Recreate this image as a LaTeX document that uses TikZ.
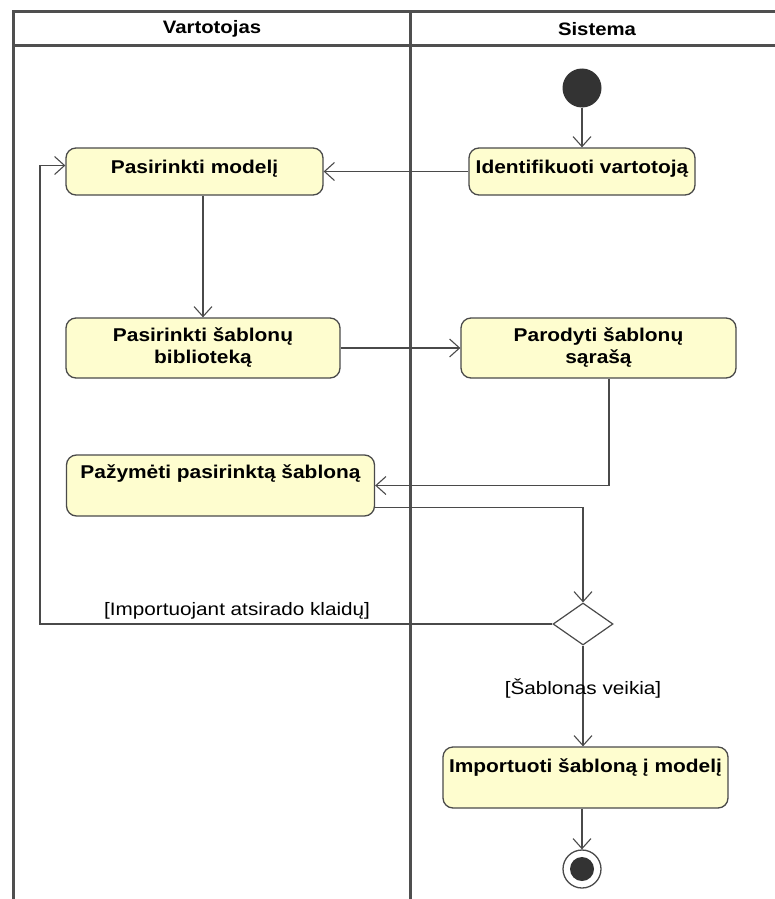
\documentclass[tikz,border=0pt]{standalone}
\usepackage{fontspec}
\setmainfont{Liberation Sans}
\newfontfamily\actfont[FakeStretch=1.13]{Liberation Sans Bold}
\newfontfamily\guardfont[FakeStretch=1.15]{Liberation Sans}
\usetikzlibrary{arrows.meta,shapes.geometric}
\definecolor{actfill}{HTML}{FEFDCF}
\definecolor{edge}{HTML}{4A4A4A}
\definecolor{lane}{HTML}{4F4F4F}
\tikzset{
  lanerule/.style={draw=lane, line width=3pt},
  action/.style={draw=edge, fill=actfill, rounded corners=10pt, line width=1.3pt,
    inner xsep=0pt, inner ysep=0pt, align=center,
    font=\actfont\fontsize{18.5}{22}\selectfont},
  flow/.style={draw=edge, line width=1.2pt,
    -{Straight Barb[length=10pt,width=18pt,line width=1.1pt]}},
  guard/.style={font=\guardfont\fontsize{18}{21}\selectfont, inner sep=0pt},
  lanehead/.style={font=\actfont\fontsize{18}{21}\selectfont, inner sep=0pt},
}
\begin{document}
\begin{tikzpicture}[x=1pt,y=-1pt]
\useasboundingbox (0,0) rectangle (775,899);
% swimlane frame
\draw[lanerule] (780,12) -- (13,12) -- (13,905);
\draw[lanerule] (13,46) -- (780,46);
\draw[lanerule] (410,12) -- (410,905);
\node[lanehead] (hv) at (212,29) {Vartotojas};
\node[lanehead] (hs) at (597,29) {Sistema};

% start and end
\node[circle, fill=black!80, minimum size=39pt, inner sep=0pt] (init) at (582,88) {};
\node[circle, draw=edge, line width=1.3pt, fill=white, minimum size=38pt, inner sep=0pt] (fin) at (582,869) {};
\node[circle, fill=black!80, minimum size=24pt, inner sep=0pt] (finc) at (582,869) {};

% actions
\node[action, anchor=base, minimum width=257pt, text height=25pt, text depth=22pt] (model) at (194.5,173) {Pasirinkti modelį};
\node[action, anchor=base, minimum width=226pt, text height=25pt, text depth=22pt] (ident) at (582,173) {Identifikuoti vartotoją};
\node[action, minimum width=274pt, minimum height=60pt] (bib) at (203,348) {Pasirinkti šablonų\\biblioteką};
\node[action, minimum width=275pt, minimum height=60pt] (par) at (598.5,348) {Parodyti šablonų\\sąrašą};
\node[action, anchor=base, minimum width=308pt, text height=23pt, text depth=38pt] (paz) at (220.5,478) {Pažymėti pasirinktą šabloną};
\node[action, anchor=base, minimum width=285pt, text height=25pt, text depth=36pt] (imp) at (585.5,772) {Importuoti šabloną į modelį};

% decision
\node[diamond, draw=edge, fill=white, line width=1.2pt, minimum width=60pt, minimum height=42pt, inner sep=0pt] (dec) at (583,624) {};

\coordinate (loopx) at (40,0);

% control flows
\draw[flow] (init.south) -- (init.south |- ident.north);
\draw[flow] (ident.west) -- (model.east);
\draw[flow] (model.south -| bib.north) -- (bib.north);
\draw[flow] (bib.east) -- (par.west);
\draw[flow] ([xshift=10.5pt]par.south) |- (paz.east);
\draw[flow] ([yshift=-22pt]paz.east) -| (dec.north);
\draw[flow] (dec.west) -- (dec.west -| loopx) |- ([yshift=6pt]model.west);
\draw[flow] (dec.south) -- (dec.south |- imp.north);
\draw[flow] (imp.south -| fin.north) -- (fin.north);

% guards
\node[guard, anchor=base west] (g1) at (104,615) {[Importuojant atsirado klaidų]};
\node[guard, anchor=base] (g2) at (583,694) {[Šablonas veikia]};
\end{tikzpicture}
\end{document}
